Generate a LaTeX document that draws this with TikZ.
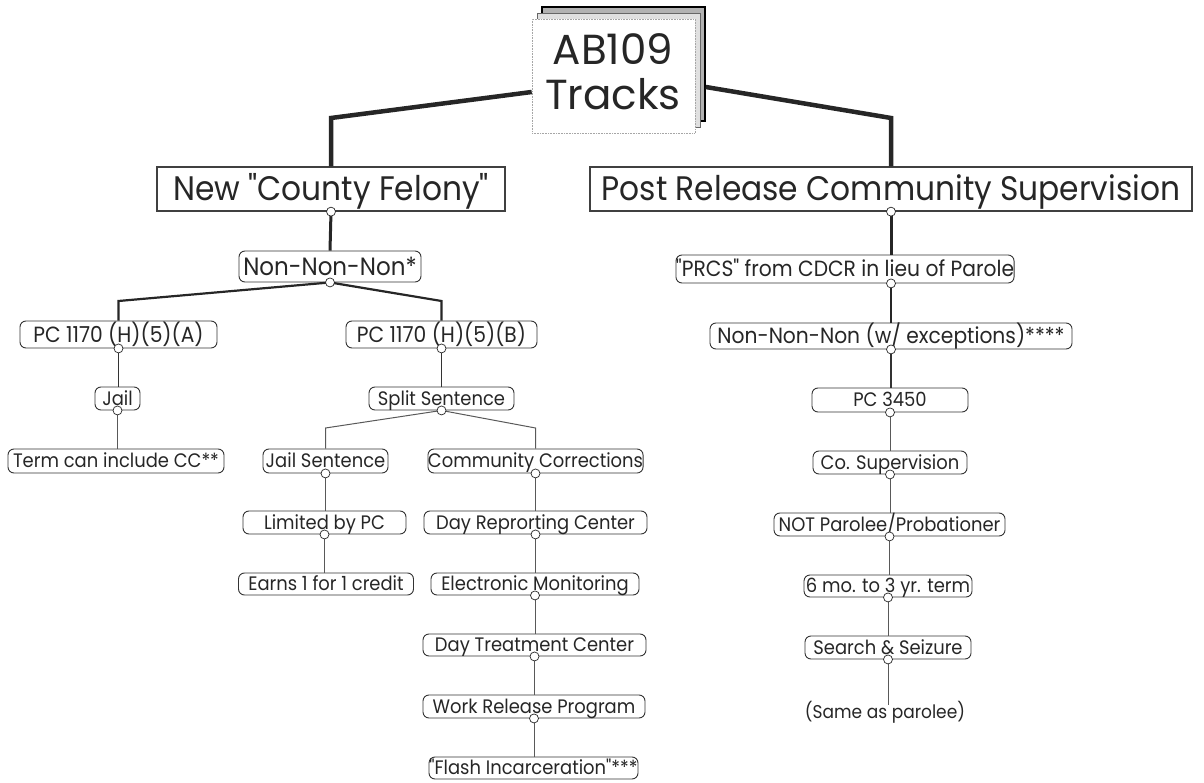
\documentclass[tikz,border=0pt]{standalone}
\usepackage{fontspec}
\newfontfamily\cg[FakeStretch=0.92]{Poppins}
\newfontfamily\cgt{Poppins}
\begin{document}
\begin{tikzpicture}[x=1pt,y=-1pt,
  every node/.style={text=black!85},
  lvtwo/.style={draw=black!75, line width=1.3pt, inner sep=0pt, text height=23.5pt, text depth=0pt, font=\cg\fontsize{34}{40}\selectfont},
  rb/.style={draw=black!80, line width=0.9pt, rounded corners=6pt, inner sep=0pt},
  fbig/.style={font=\cg\fontsize{25}{30}\selectfont, text height=17.5pt, text depth=0pt},
  fprf/.style={font=\cg\fontsize{22}{26}\selectfont, text height=15.4pt, text depth=0pt},
  fmid/.style={font=\cg\fontsize{22}{26}\selectfont, text height=15.4pt, text depth=0pt},
  fsm/.style={font=\cg\fontsize{19.5}{23}\selectfont, text height=13.6pt, text depth=0pt},
  dot/.style={circle, draw=black!85, fill=white, line width=0.7pt, inner sep=0pt, minimum size=9pt},
  card/.style={minimum width=163pt, minimum height=114pt, inner sep=0pt},
  wa/.style={line width=4.5pt, draw=black!85},
  wb/.style={line width=3pt, draw=black!85},
  wc/.style={line width=2.2pt, draw=black!85},
  wd/.style={line width=1.3pt, draw=black!80},
  we/.style={line width=1pt, draw=black!65}
]
\useasboundingbox (0,0) rectangle (1204,783);
% title stack
\node[card, draw=black, line width=1.6pt, fill=black!30] (back) at (623.5,64) {};
\node[card, draw=black!60, line width=0.8pt, fill=black!12] (mid) at (618.5,70) {};
\node[card, draw=black!35, line width=0.6pt, densely dotted, fill=white] (front) at (613.5,76) {};
\node[font=\cgt\fontsize{42}{45}\selectfont, anchor=base] (t1) at (613,65) {AB109};
\node[font=\cgt\fontsize{42}{45}\selectfont, anchor=base] (t2) at (613,110) {Tracks};

% level 2
\node[lvtwo, minimum width=348pt, minimum height=44pt] (cf) at (331,189) {New "County Felony"};
\node[lvtwo, minimum width=602pt, minimum height=44pt] (prcs) at (891,189) {Post Release Community Supervision};

% level 3
\node[rb, fbig, minimum width=182pt, minimum height=31pt] (nnn) at (330,266.5) {Non-Non-Non*};
\node[rb, fprf, minimum width=334pt, minimum height=28pt] (prcsf) at (845,269) {"PRCS" from CDCR in lieu of Parole};

% level 4
\node[rb, fmid, minimum width=197pt, minimum height=27pt] (pca) at (118.5,334.5) {PC 1170 (H)(5)(A)};
\node[rb, fmid, minimum width=191pt, minimum height=27pt] (pcb) at (441.5,334.5) {PC 1170 (H)(5)(B)};
\node[rb, fmid, minimum width=362pt, minimum height=26pt] (nwe) at (891,336) {Non-Non-Non (w/ exceptions)****};

% level 5
\node[rb, fsm, minimum width=45pt, minimum height=23pt] (jail) at (117.5,398.5) {Jail};
\node[rb, fsm, minimum width=145pt, minimum height=23pt] (split) at (441.5,398.5) {Split Sentence};
\node[rb, fsm, minimum width=156pt, minimum height=24pt] (pcf) at (890,400) {PC 3450};

% level 6
\node[rb, fsm, minimum width=216pt, minimum height=24pt] (term) at (116,461) {Term can include CC**};
\node[rb, fsm, minimum width=125pt, minimum height=24pt] (jsent) at (325.5,461) {Jail Sentence};
\node[rb, fsm, minimum width=215pt, minimum height=24pt] (comm) at (535.5,461) {Community Corrections};
\node[rb, fsm, minimum width=154pt, minimum height=23pt] (cosup) at (890,462.5) {Co. Supervision};

% level 7
\node[rb, fsm, minimum width=163pt, minimum height=23pt] (limited) at (324.5,522.5) {Limited by PC};
\node[rb, fsm, minimum width=223pt, minimum height=23pt] (dayrep) at (535.5,522.5) {Day Reprorting Center};
\node[rb, fsm, minimum width=231pt, minimum height=23pt] (notpar) at (889.5,524.5) {NOT Parolee/Probationer};

% level 8
\node[rb, fsm, minimum width=175pt, minimum height=22pt] (earns) at (326,584) {Earns 1 for 1 credit};
\node[rb, fsm, minimum width=208pt, minimum height=22pt] (elec) at (535,584) {Electronic Monitoring};
\node[rb, fsm, minimum width=168pt, minimum height=22pt] (sixmo) at (888,586) {6 mo. to 3 yr. term};

% level 9
\node[rb, fsm, minimum width=223pt, minimum height=22pt] (daytreat) at (534.5,645) {Day Treatment Center};
\node[rb, fsm, minimum width=166pt, minimum height=23pt] (search) at (888,647.5) {Search \& Seizure};

% level 10
\node[rb, fsm, minimum width=222pt, minimum height=23pt] (work) at (534,706.5) {Work Release Program};
\node[font=\cg\fontsize{18.5}{22}\selectfont, text height=12.9pt, text depth=0pt, inner sep=0pt] (same) at (885,712) {(Same as parolee)};

% level 11
\node[rb, fsm, minimum width=209pt, minimum height=22pt] (flash) at (533.5,768) {"Flash Incarceration"***};

% corner coordinates
\coordinate (lc) at (331,118);
\coordinate (rc) at (891,118);
\coordinate (cl1) at (118.5,301);
\coordinate (cr1) at (441.5,301);
\coordinate (cl2) at (325.5,428);
\coordinate (cr2) at (535.5,428);
\coordinate (pf) at (prcs.south |- prcsf.south);

% connectors
\draw[wa] ([yshift=-16pt]front.west) -- (lc) -- (cf.north);
\draw[wa] ([yshift=-23pt]back.east) -- (rc) -- (prcs.north);
\draw[wb] (cf.south) -- (nnn.north);
\draw[wb] (prcs.south) -- (prcs.south |- prcsf.north);
\draw[wc] (nnn.south) -- (cl1) -- (pca.north);
\draw[wc] (nnn.south) -- (cr1) -- (pcb.north);
\draw[wc] (pf) -- (pf |- nwe.north);
\draw[wd] (pca.south) -- (pca.south |- jail.north);
\draw[wd] (pcb.south) -- (pcb.south |- split.north);
\draw[wd] (nwe.south) -- (nwe.south |- pcf.north);
\draw[we] (jail.south) -- (jail.south |- term.north);
\draw[we] (split.south) -- (cl2) -- (jsent.north);
\draw[we] (split.south) -- (cr2) -- (comm.north);
\draw[we] (pcf.south) -- (pcf.south |- cosup.north);
\draw[we] (jsent.south) -- (jsent.south |- limited.north);
\draw[we] (comm.south) -- (comm.south |- dayrep.north);
\draw[we] (cosup.south) -- (cosup.south |- notpar.north);
\draw[we] (limited.south) -- (limited.south |- earns.north);
\draw[we] (dayrep.south) -- (dayrep.south |- elec.north);
\draw[we] (notpar.south) -- (notpar.south |- sixmo.north);
\draw[we] (elec.south) -- (elec.south |- daytreat.north);
\draw[we] (sixmo.south) -- (sixmo.south |- search.north);
\draw[we] (daytreat.south) -- (daytreat.south |- work.north);
\draw[we] (search.south) -- (search.south |- same.north);
\draw[we] (work.south) -- (work.south |- flash.north);

% connection dots
\foreach \n in {cf,prcs,nnn,pca,pcb,nwe,jail,split,pcf,jsent,comm,cosup,limited,dayrep,notpar,elec,sixmo,daytreat,search,work}
  \node[dot] (d\n) at (\n.south) {};
\node[dot] (dpf) at (pf) {};
\end{tikzpicture}
\end{document}
